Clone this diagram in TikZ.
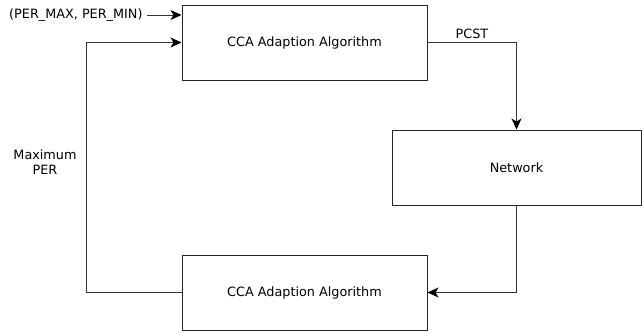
\documentclass[tikz,border=0pt]{standalone}
\usepackage{fontspec}
\setmainfont{DejaVu Sans}
\usetikzlibrary{arrows.meta}
\tikzset{
  every picture/.style={
    line width=1pt, draw=black!80,
    >={Stealth[width=10pt, length=11pt, inset=3pt, color=black]}
  },
  block/.style={
    draw=black!85, fill=white, inner sep=0pt,
    minimum height=75pt,
    font=\fontsize{12.8}{15}\selectfont
  },
  tag/.style={
    inner sep=1pt, align=center,
    font=\fontsize{12.8}{15}\selectfont
  }
}

\begin{document}
\begin{tikzpicture}[x=1pt, y=-1pt]
      \useasboundingbox (0,0) rectangle (644,333);
      \node[block, minimum width=245pt] (adapt1) at (304.5,42.5) {CCA Adaption Algorithm};
      \node[block, minimum width=249pt] (net) at (516.5,167.5) {Network};
      \node[block, minimum width=245pt] (adapt2) at (304.5,292.5) {CCA Adaption Algorithm};
      \node[tag, anchor=east, inner xsep=4pt] (limits) at (147,15) {(PER\_MAX, PER\_MIN)};
      \node[tag] (maxper) at (45,162) {Maximum\\PER};
      \coordinate (corner) at (86,292.5);
      \draw[->] (limits.east) -- (limits.east -| adapt1.west);
      \draw[->] (adapt1.east) -| (net.north) node[tag, pos=0.25, above=2pt] (pcst) {PCST};
      \draw[->] (net.south) |- (adapt2.east);
      \draw[->] (adapt2.west) -- (corner) |- (adapt1.west);
\end{tikzpicture}
\end{document}
